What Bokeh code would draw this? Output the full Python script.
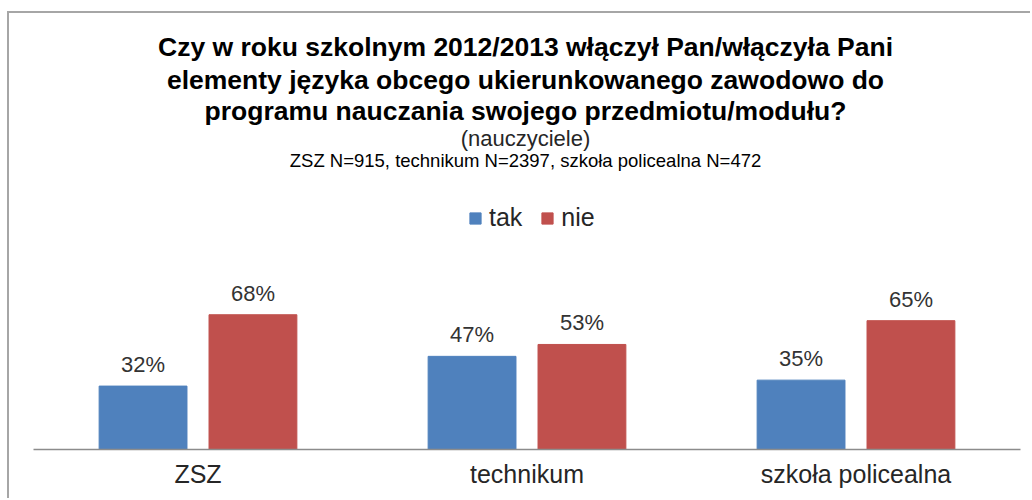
from bokeh.plotting import figure
from bokeh.models import (ColumnDataSource, FactorRange, Range1d, Label, LabelSet,
                          Legend, LegendItem)
from bokeh.transform import dodge
from bokeh.core.properties import value
from bokeh.embed import file_html
from bokeh.resources import INLINE

# ---- data ----
categories = ["ZSZ", "technikum", "szkoła policealna"]
series_names = ["tak", "nie"]
tak = [32, 47, 35]
nie = [68, 53, 65]
tak_labels = [f"{v}%" for v in tak]
nie_labels = [f"{v}%" for v in nie]

title_lines = [
    "Czy w roku szkolnym 2012/2013 włączył Pan/włączyła Pani",
    "elementy języka obcego ukierunkowanego zawodowo do",
    "programu nauczania swojego przedmiotu/modułu?",
]
subtitle = "(nauczyciele)"
sample_note = "ZSZ N=915, technikum N=2397, szkoła policealna N=472"

BLUE = "#4F81BD"
RED = "#C0504D"
FONT = "Liberation Sans"

source = ColumnDataSource(dict(cat=categories, tak=tak, nie=nie,
                               tak_lbl=tak_labels, nie_lbl=nie_labels))

W, H = 1023, 487
p = figure(x_range=FactorRange(*categories, range_padding=0),
           y_range=Range1d(0, 220),
           width=W, height=H, output_backend="svg", toolbar_location=None,
           min_border_left=24, min_border_right=12, min_border_top=0,
           min_border_bottom=51, background_fill_color="white",
           border_fill_color="white", outline_line_color=None,
           styles={"margin-left": "7px", "margin-top": "11px",
                   "border-left": "2px solid #a6a6a6",
                   "border-top": "2px solid #a6a6a6"})

off = 0.167
bw = 0.267
r_tak = p.vbar(x=dodge("cat", -off, range=p.x_range), top="tak", width=bw, bottom=0,
               source=source, fill_color=BLUE, line_color=BLUE)
r_nie = p.vbar(x=dodge("cat", off, range=p.x_range), top="nie", width=bw, bottom=0,
               source=source, fill_color=RED, line_color=RED)

for col, lbl, o in (("tak", "tak_lbl", -off), ("nie", "nie_lbl", off)):
    p.add_layout(LabelSet(x=dodge("cat", o, range=p.x_range), y=col, text=lbl,
                          source=source, text_align="center",
                          text_baseline="alphabetic", y_offset=14,
                          text_font=value(FONT), text_font_size="22px",
                          text_color="#333333"))

# axes / grid
p.yaxis.visible = False
p.xgrid.grid_line_color = None
p.ygrid.grid_line_color = None
xa = p.xaxis[0]
xa.axis_line_color = "#8c8c8c"
xa.axis_line_width = 1.5
xa.major_tick_line_color = None
xa.minor_tick_line_color = None
xa.major_label_standoff = 4
xa.major_label_text_font = FONT
xa.major_label_text_font_size = "25px"
xa.major_label_text_color = "#262626"

# titles (frame-relative screen units)
cx = 492
for txt, y in zip(title_lines, (403, 370, 339)):
    p.add_layout(Label(x=cx, y=y, x_units="screen", y_units="screen", text=txt,
                       text_align="center", text_baseline="middle",
                       text_font=FONT, text_font_style="bold",
                       text_font_size="26.5px", text_color="black"))
p.add_layout(Label(x=cx, y=311, x_units="screen", y_units="screen", text=subtitle,
                   text_align="center", text_baseline="middle", text_font=FONT,
                   text_font_size="22px", text_color="#262626"))
p.add_layout(Label(x=cx, y=289, x_units="screen", y_units="screen", text=sample_note,
                   text_align="center", text_baseline="middle", text_font=FONT,
                   text_font_size="18.5px", text_color="black"))

legend = Legend(items=[LegendItem(label=series_names[0], renderers=[r_tak]),
                       LegendItem(label=series_names[1], renderers=[r_nie])],
                orientation="horizontal", location=(435, 217),
                glyph_width=14, glyph_height=14, label_standoff=7, spacing=18,
                padding=0, margin=0, border_line_color=None,
                background_fill_alpha=0, label_text_font=FONT,
                label_text_font_size="25px", label_text_color="#262626")
p.add_layout(legend, "center")

open("out.html", "w").write(file_html(p, INLINE))
